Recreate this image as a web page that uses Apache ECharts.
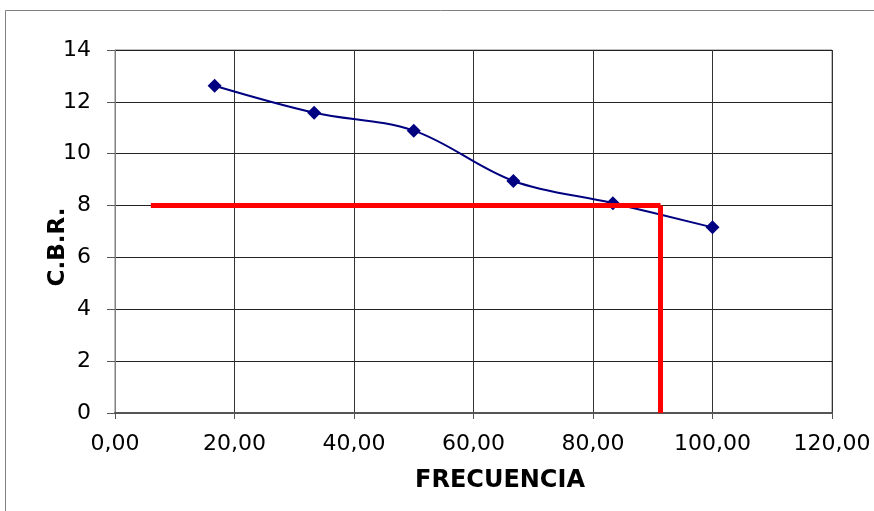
<!DOCTYPE html>
<html>
<head>
<meta charset="utf-8">
<script src="https://cdn.jsdelivr.net/npm/echarts@6/dist/echarts.min.js"></script>
<style>html,body{margin:0;padding:0;background:#fff;}#c{width:874px;height:511px;}</style>
</head>
<body>
<div id="c"></div>
<script>
var frecuencia = [16.67, 33.33, 50.00, 66.67, 83.33, 100.00];
var cbr = [12.62, 11.58, 10.89, 8.95, 8.09, 7.16];
var refX = [6.0, 91.3];
var refY = [8, 0];
var xTitle = 'FRECUENCIA';
var yTitle = 'C.B.R.';

var chart = echarts.init(document.getElementById('c'));
var font = 'DejaVu Sans, Arial, sans-serif';
chart.setOption({
  animation: false,
  backgroundColor: '#fff',
  graphic: [
    {type: 'rect', shape: {x: 5.5, y: 10.5, width: 900, height: 600},
     style: {fill: 'none', stroke: '#808080', lineWidth: 1}, silent: true},
    {type: 'text', x: 500, y: 481,
     style: {text: xTitle, font: 'bold 24px DejaVu Sans', fill: '#000', textAlign: 'center', textVerticalAlign: 'middle'}},
    {type: 'text', x: 58, y: 247, rotation: Math.PI / 2,
     style: {text: yTitle, font: 'bold 23px DejaVu Sans', fill: '#000', textAlign: 'center', textVerticalAlign: 'middle'}}
  ],
  grid: {left: 115, right: 42, top: 50, bottom: 98, show: true, borderColor: '#808080', borderWidth: 1},
  xAxis: {
    type: 'value', min: 0, max: 120, interval: 20,
    axisLine: {show: true, lineStyle: {color: '#555', width: 2}},
    axisTick: {show: true, length: 6, lineStyle: {color: '#555'}},
    axisLabel: {fontFamily: font, fontSize: 22, color: '#000', margin: 20,
      formatter: function (v) { return v.toFixed(2).replace('.', ','); }},
    splitLine: {show: true, lineStyle: {color: '#333', width: 1}}
  },
  yAxis: {
    type: 'value', min: 0, max: 14, interval: 2,
    axisLine: {show: true, lineStyle: {color: '#808080', width: 1}},
    axisTick: {show: true, length: 8, lineStyle: {color: '#555'}},
    axisLabel: {fontFamily: font, fontSize: 22, color: '#000', margin: 24},
    splitLine: {show: true, lineStyle: {color: '#222', width: 1}}
  },
  series: [
    {
      type: 'line', smooth: 0.35,
      data: frecuencia.map(function (x, i) { return [x, cbr[i]]; }),
      symbol: 'diamond', symbolSize: 14,
      lineStyle: {color: '#000080', width: 2},
      itemStyle: {color: '#000080'}, z: 3
    },
    {
      type: 'line', symbol: 'none',
      data: [[refX[0], refY[0]], [refX[1], refY[0]]],
      lineStyle: {color: '#ff0000', width: 5, cap: 'butt'}, z: 4
    },
    {
      type: 'line', symbol: 'none',
      data: [[refX[1], refY[0]], [refX[1], refY[1]]],
      lineStyle: {color: '#ff0000', width: 5, cap: 'butt'}, z: 4
    }
  ]
});
</script>
</body>
</html>
